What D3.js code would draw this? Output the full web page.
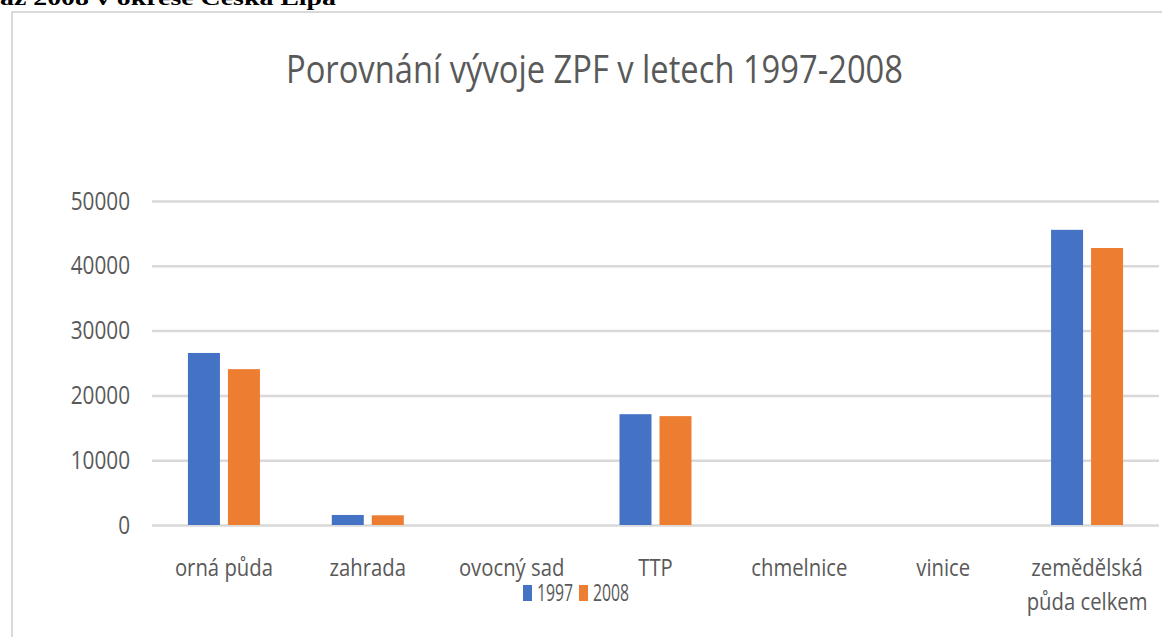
<!DOCTYPE html>
<html>
<head>
<meta charset="utf-8">
<script src="https://cdn.jsdelivr.net/npm/d3@7"></script>
<style>
  html, body { margin: 0; padding: 0; background: #fff; overflow: hidden; }
  svg { display: block; }
</style>
</head>
<body>
<div id="container"></div>
<script>
/* DATA */
const categories = ["orná půda", "zahrada", "ovocný sad", "TTP", "chmelnice", "vinice", "zemědělská půda celkem"];
const seriesNames = ["1997", "2008"];
const values1997 = [26550, 1550, 0, 17100, 0, 0, 45550];
const values2008 = [24050, 1500, 0, 16800, 0, 0, 42750];
const yTicks = [0, 10000, 20000, 30000, 40000, 50000];
const colors = ["#4472c4", "#ed7d31"];

/* CONSTANTS */
const width = 1162, height = 637;
const plot = { left: 152, right: 1159, top: 201, bottom: 525 };
const textColor = "#595959";
const font = "'Open Sans', sans-serif";

const svg = d3.select("#container").append("svg")
  .attr("width", width)
  .attr("height", height);

// condense a text element horizontally to look like the narrow original
function condense(sel, k) {
  sel.each(function () {
    const w = this.getComputedTextLength();
    d3.select(this).attr("textLength", w * k).attr("lengthAdjust", "spacingAndGlyphs");
  });
}

/* DOCUMENT HEADER (cut off at top) */
svg.append("text")
  .attr("x", 0)
  .attr("y", 5)
  .attr("font-family", "'Liberation Serif', serif")
  .attr("font-weight", "bold")
  .attr("font-size", 21)
  .attr("fill", "#000")
  .attr("textLength", 336)
  .attr("lengthAdjust", "spacingAndGlyphs")
  .text("až 2008 v okrese Česká Lípa");

/* CHART FRAME */
svg.append("rect")
  .attr("x", 12)
  .attr("y", 12)
  .attr("width", 1200)
  .attr("height", 700)
  .attr("fill", "none")
  .attr("stroke", "#d9d9d9")
  .attr("stroke-width", 2);

/* TITLE */
svg.append("text")
  .attr("x", 286)
  .attr("y", 83)
  .attr("font-family", font)
  .attr("font-size", 38)
  .attr("fill", textColor)
  .attr("textLength", 617)
  .attr("lengthAdjust", "spacingAndGlyphs")
  .text("Porovnání vývoje ZPF v letech 1997-2008");

/* SCALES */
const xScale = d3.scaleBand()
  .domain(categories)
  .range([plot.left, plot.right]);

const bw = xScale.bandwidth();
const xInner = d3.scaleBand()
  .domain(seriesNames)
  .range([bw / 2 - 36, bw / 2 + 36])
  .paddingInner(0.2);

const yScale = d3.scaleLinear()
  .domain([0, 50000])
  .range([plot.bottom, plot.top]);

/* GRID + Y AXIS */
const yAxis = d3.axisLeft(yScale)
  .tickValues(yTicks)
  .tickSize(-(plot.right - plot.left))
  .tickPadding(22)
  .tickFormat(d3.format("d"));

const gy = svg.append("g")
  .attr("transform", `translate(${plot.left},0)`)
  .call(yAxis);
gy.select(".domain").remove();
gy.selectAll(".tick line")
  .attr("stroke", "#d9d9d9")
  .attr("stroke-width", 2.5);
gy.selectAll(".tick text")
  .attr("font-family", font)
  .attr("font-size", 25)
  .attr("fill", textColor)
  .call(condense, 0.83);

/* BARS */
const table = categories.map((c, i) => ({ category: c, values: [values1997[i], values2008[i]] }));

const groups = svg.selectAll("g.cat")
  .data(table)
  .enter()
  .append("g")
  .attr("class", "cat")
  .attr("transform", d => `translate(${xScale(d.category)},0)`);

groups.selectAll("rect")
  .data(d => d.values.map((v, j) => ({ series: seriesNames[j], value: v, color: colors[j] })))
  .enter()
  .append("rect")
  .attr("x", d => xInner(d.series))
  .attr("width", xInner.bandwidth())
  .attr("y", d => yScale(d.value))
  .attr("height", d => yScale(0) - yScale(d.value))
  .attr("fill", d => d.color);

/* CATEGORY LABELS */
const catLabels = {
  "zemědělská půda celkem": ["zemědělská", "půda celkem"]
};
categories.forEach(c => {
  const lines = catLabels[c] || [c];
  lines.forEach((line, li) => {
    svg.append("text")
      .attr("x", xScale(c) + bw / 2)
      .attr("y", 576 + li * 34)
      .attr("text-anchor", "middle")
      .attr("font-family", font)
      .attr("font-size", 24)
      .attr("fill", textColor)
      .text(line)
      .call(condense, 0.845);
  });
});

/* LEGEND */
const legendX = [523, 579];
seriesNames.forEach((s, i) => {
  svg.append("rect")
    .attr("x", legendX[i])
    .attr("y", 585)
    .attr("width", 9)
    .attr("height", 16)
    .attr("fill", colors[i]);
  svg.append("text")
    .attr("x", legendX[i] + 14)
    .attr("y", 601)
    .attr("font-family", font)
    .attr("font-size", 24)
    .attr("fill", textColor)
    .attr("textLength", 36)
    .attr("lengthAdjust", "spacingAndGlyphs")
    .text(s);
});
</script>
</body>
</html>
